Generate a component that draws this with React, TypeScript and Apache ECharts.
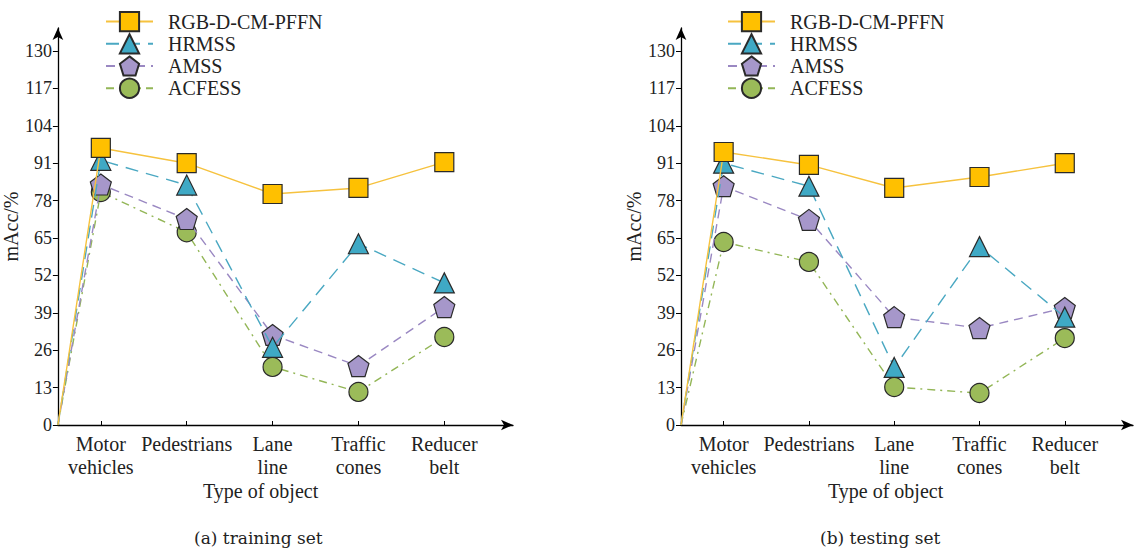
import React, { useEffect, useRef } from "react";
import * as echarts from "echarts";

const categories = ["Motor\nvehicles", "Pedestrians", "Lane\nline", "Traffic\ncones", "Reducer\nbelt"];
const seriesNames = ["RGB-D-CM-PFFN", "HRMSS", "AMSS", "ACFESS"];
const yTicks = [0, 13, 26, 39, 52, 65, 78, 91, 104, 117, 130];
const origin = [0, 0];

// training set
const trainRGB = [96.3, 91, 80.3, 82.4, 91.4];
const trainHRMSS = [92, 83.4, 27, 63, 49.4];
const trainAMSS = [83.6, 71.6, 31.3, 20.5, 41];
const trainACFESS = [81, 67, 20.2, 11.5, 30.6];

// testing set
const testRGB = [94.9, 90.4, 82.4, 86.2, 91];
const testHRMSS = [91, 83, 20, 62, 37.5];
const testAMSS = [83, 71.3, 37.5, 33.7, 40.7];
const testACFESS = [63.6, 56.7, 13.2, 11.1, 30.2];

const PENTAGON = "path://M50,2 L98,38 L80,96 L20,96 L2,38 Z";

const styles = [
  { line: "#F6C23E", fill: "#FFC000", symbol: "rect", size: 19, type: "solid" as any, z: 5 },
  { line: "#4AA8C2", fill: "#3FA9C5", symbol: "triangle", size: 20, type: [13, 8], z: 4 },
  { line: "#9A88C2", fill: "#A697CA", symbol: PENTAGON, size: 21, type: [9, 6], z: 3 },
  { line: "#93B657", fill: "#9BBB59", symbol: "circle", size: 19, type: [8, 5, 2, 5], z: 2 },
];

const FONT = "Liberation Serif";
const TXT = "#222";

function makeSeries(name: string, values: number[], idx: number, s: any) {
  return {
    name,
    type: "line",
    xAxisIndex: idx,
    yAxisIndex: idx,
    z: s.z,
    symbol: s.symbol,
    symbolSize: s.size,
    lineStyle: { color: s.line, width: 1.4, type: s.type },
    itemStyle: { color: s.fill, borderColor: "#2a2a2a", borderWidth: 1.2 },
    data: [
      { value: origin, symbol: "none" },
      ...values.map((v, i) => [i + 0.5, v]),
    ],
  };
}

const catPos = categories.map((_, i) => i + 0.5);

function xAxis(idx: number) {
  return {
    type: "value",
    gridIndex: idx,
    min: 0,
    max: 5.3,
    splitLine: { show: false },
    axisLine: {
      show: true,
      lineStyle: { color: "#000", width: 1.3 },
      symbol: ["none", "arrow"],
      symbolSize: [8, 12],
    },
    axisTick: { show: true, inside: true, length: 4, customValues: catPos, lineStyle: { color: "#000" } },
    axisLabel: {
      customValues: catPos,
      showMinLabel: true,
      showMaxLabel: true,
      hideOverlap: false,
      formatter: (v: number) => categories[Math.round(v - 0.5)] ?? "",
      fontFamily: FONT,
      fontSize: 20,
      lineHeight: 23,
      margin: 7,
      color: TXT,
    },
  };
}

function yAxis(idx: number) {
  return {
    type: "value",
    gridIndex: idx,
    min: 0,
    max: 138,
    splitLine: { show: false },
    axisLine: {
      show: true,
      lineStyle: { color: "#000", width: 1.3 },
      symbol: ["none", "arrow"],
      symbolSize: [8, 12],
    },
    axisTick: { show: true, length: 5, customValues: yTicks, lineStyle: { color: "#000" } },
    axisLabel: { customValues: yTicks, fontFamily: FONT, fontSize: 18, margin: 6, color: TXT },
    name: "mAcc/%",
    nameLocation: "middle",
    nameRotate: 90,
    nameGap: 18,
    nameTextStyle: { fontFamily: FONT, fontSize: 20, color: TXT },
  };
}

function legend(left: number) {
  return {
    orient: "vertical",
    left,
    top: 6,
    itemWidth: 47,
    itemHeight: 24,
    itemGap: 1,
    data: seriesNames,
    textStyle: { fontFamily: FONT, fontSize: 20, color: TXT, padding: [0, 0, 0, 10] },
  };
}

export default function App() {
  const ref = useRef<HTMLDivElement>(null);
  useEffect(() => {
    if (!ref.current) return;
    const chart = echarts.init(ref.current, null, { renderer: "svg" });
    const train = [trainRGB, trainHRMSS, trainAMSS, trainACFESS];
    const test = [testRGB, testHRMSS, testAMSS, testACFESS];
    chart.setOption({
      animation: false,
      backgroundColor: "#fff",
      grid: [
        { left: 57, top: 28, width: 456, height: 397 },
        { left: 681, top: 28, width: 452, height: 397 },
      ],
      xAxis: [xAxis(0), xAxis(1)],
      yAxis: [yAxis(0), yAxis(1)],
      legend: [legend(100), legend(722)],
      series: [
        ...seriesNames.map((n, i) => makeSeries(n, train[i], 0, styles[i])),
        ...seriesNames.map((n, i) => makeSeries(n, test[i], 1, styles[i])),
      ],
      graphic: [
        { type: "text", left: 262 - 59, top: 481, style: { text: "Type of object", font: `20px "${FONT}"`, fill: TXT } },
        { type: "text", left: 887 - 59, top: 481, style: { text: "Type of object", font: `20px "${FONT}"`, fill: TXT } },
        { type: "text", left: 267 - 73, top: 529, style: { text: "(a) training set", font: `17px "DejaVu Serif"`, fill: TXT } },
        { type: "text", left: 890 - 70, top: 529, style: { text: "(b) testing set", font: `17px "DejaVu Serif"`, fill: TXT } },
      ],
    });
    return () => chart.dispose();
  }, []);
  return <div ref={ref} style={{ position: "absolute", left: 0, top: 0, width: 1135, height: 553 }} />;
}
